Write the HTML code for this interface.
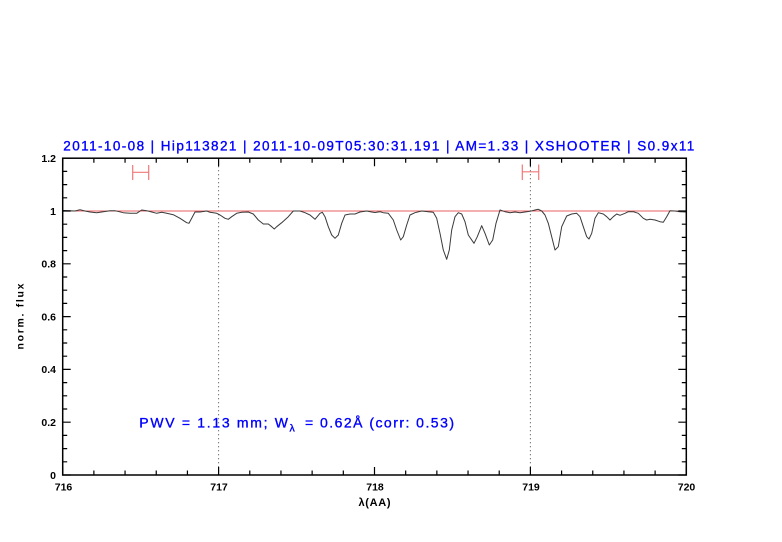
<!DOCTYPE html>
<html><head><meta charset="utf-8"><style>
html,body{margin:0;padding:0;background:#fff;}
svg{display:block;}
text{font-family:"Liberation Sans",sans-serif;}
</style></head><body>
<svg width="782" height="542" viewBox="0 0 782 542" xmlns="http://www.w3.org/2000/svg">
<rect width="782" height="542" fill="#fff"/>
<!-- title -->
<text x="63.3" y="150.3" font-size="13.5" fill="#0000ff" stroke="#0000ff" stroke-width="0.35" textLength="631" lengthAdjust="spacing">2011-10-08 | Hip113821 | 2011-10-09T05:30:31.191 | AM=1.33 | XSHOOTER | S0.9x11</text>
<!-- dotted lines -->
<g stroke="#444" stroke-width="1" stroke-dasharray="1,3">
<line x1="218.6" y1="158.2" x2="218.6" y2="475"/>
<line x1="530.4" y1="158.2" x2="530.4" y2="475"/>
</g>
<!-- unity line -->
<line x1="62.7" y1="211" x2="686.3" y2="211" stroke="#e86060" stroke-width="1"/>
<!-- error bars -->
<g stroke="#f07878" stroke-width="1.2" fill="none">
<path d="M132.7 172.3H148.7M132.7 165V180M148.7 165V180"/>
<path d="M522.3 171.8H538.7M522.3 164.5V180M538.7 164.5V180"/>
</g>
<!-- spectrum -->
<polyline fill="none" stroke="#3a3a3a" stroke-width="1" stroke-linejoin="round" points="62.7,211 63.3,210.5 70,210.7 75,211 80,209.7 85,211 90,212 96.7,212.7 101.7,212 110,210.7 115,210.7 123.3,212.7 130,213.3 136.7,213.3 141.7,210 146.7,210.7 151.7,212 156.7,213.3 161.7,212.3 166.7,213.3 173.3,214.7 180,218.3 186.7,222.7 189,223.3 191.7,218.3 195,212 200,212 206.7,211 210,212.3 216.7,213.3 220,215 225,218.3 228.3,219.3 231.7,216.7 236.7,213.3 241.7,212.3 248.3,212 253.3,214 258.3,220 263.3,224 268.3,224 271.7,226.7 274.3,229 276.7,226.7 281.7,222.7 288.3,216.7 293.3,211 300,211 305,212.7 310,215 315,219.3 320,213.3 322.3,212.3 325,216.7 328.3,226.7 331.7,235 335,238.3 338.3,235 341.7,223.3 345,215 350,214 355,214 360,212 366.7,211 371.7,212 375,212.5 380,211.7 383.3,212.7 388.3,213.3 393.3,220 396.7,230 400.7,240 403.3,236.7 406.7,225 410,215 415,212.7 421.7,211 428.3,211.7 433.3,212.3 436.7,218.3 440,233.3 443.3,250 446.7,259.3 449.3,250 451.7,230 455,216.7 458.3,212.7 461.7,214 465,221.7 468.3,235 474,243.3 477.3,236.7 481.7,225.7 485,233.3 489.3,245 492.7,240 496,223.3 500,210 505,211.7 510,212.7 515,212 520,212.7 525,212 530,211.3 535,210 538.3,209.3 541.7,211 545,215 548.3,223.3 551.7,236.7 555,250 558.3,246.7 561.7,226.7 566.7,216 571.7,214 576.7,213.3 580,216.7 583.3,226.7 586.7,236.7 589,239 591.7,233.3 595,218.3 598.3,212.7 603.3,214 606.7,216.7 610,220 613.3,216.7 616.7,214 620,215.3 625,213.3 628.3,211.7 633.3,211.7 638.3,213.3 643.3,218.3 646.7,220 650,219.3 655,220 660,221.7 663.3,222.3 666.7,216.7 670,210.7 675,211 680,211.7 686,212"/>
<!-- frame -->
<rect x="62.7" y="158.2" width="623.6" height="316.8" fill="none" stroke="#000" stroke-width="1.5"/>
<!-- ticks -->
<path stroke="#000" stroke-width="1.2" fill="none" d="
M62.7 475v-8M218.6 475v-8M374.5 475v-8M530.4 475v-8M686.3 475v-8
M62.7 158.2v8M218.6 158.2v8M374.5 158.2v8M530.4 158.2v8M686.3 158.2v8
M93.88 475v-4.5M125.06 475v-4.5M156.24 475v-4.5M187.42 475v-4.5M249.78 475v-4.5M280.96 475v-4.5M312.14 475v-4.5M343.32 475v-4.5M405.68 475v-4.5M436.86 475v-4.5M468.04 475v-4.5M499.22 475v-4.5M561.58 475v-4.5M592.76 475v-4.5M623.94 475v-4.5M655.12 475v-4.5
M93.88 158.2v4.5M125.06 158.2v4.5M156.24 158.2v4.5M187.42 158.2v4.5M249.78 158.2v4.5M280.96 158.2v4.5M312.14 158.2v4.5M343.32 158.2v4.5M405.68 158.2v4.5M436.86 158.2v4.5M468.04 158.2v4.5M499.22 158.2v4.5M561.58 158.2v4.5M592.76 158.2v4.5M623.94 158.2v4.5M655.12 158.2v4.5
M62.7 475h8M62.7 422.2h8M62.7 369.4h8M62.7 316.6h8M62.7 263.8h8M62.7 211h8M62.7 158.2h8
M686.3 475h-8M686.3 422.2h-8M686.3 369.4h-8M686.3 316.6h-8M686.3 263.8h-8M686.3 211h-8M686.3 158.2h-8
M62.7 461.8h4.5M62.7 448.6h4.5M62.7 435.4h4.5M62.7 409h4.5M62.7 395.8h4.5M62.7 382.6h4.5M62.7 356.2h4.5M62.7 343h4.5M62.7 329.8h4.5M62.7 303.4h4.5M62.7 290.2h4.5M62.7 277h4.5M62.7 250.6h4.5M62.7 237.4h4.5M62.7 224.2h4.5M62.7 197.8h4.5M62.7 184.6h4.5M62.7 171.4h4.5
M686.3 461.8h-4.5M686.3 448.6h-4.5M686.3 435.4h-4.5M686.3 409h-4.5M686.3 395.8h-4.5M686.3 382.6h-4.5M686.3 356.2h-4.5M686.3 343h-4.5M686.3 329.8h-4.5M686.3 303.4h-4.5M686.3 290.2h-4.5M686.3 277h-4.5M686.3 250.6h-4.5M686.3 237.4h-4.5M686.3 224.2h-4.5M686.3 197.8h-4.5M686.3 184.6h-4.5M686.3 171.4h-4.5"/>
<!-- y tick labels -->
<g font-size="10.5" font-weight="bold" fill="#000" text-anchor="end">
<text x="56" y="478.8">0</text>
<text x="56" y="426">0.2</text>
<text x="56" y="373.2">0.4</text>
<text x="56" y="320.4">0.6</text>
<text x="56" y="267.6">0.8</text>
<text x="56" y="214.8">1</text>
<text x="56" y="162">1.2</text>
</g>
<!-- x tick labels -->
<g font-size="10.5" font-weight="bold" fill="#000" text-anchor="middle">
<text x="63.5" y="490.7">716</text>
<text x="219" y="490.7">717</text>
<text x="375" y="490.7">718</text>
<text x="531" y="490.7">719</text>
<text x="686.5" y="490.7">720</text>
</g>
<text x="358.5" y="506" font-size="11" font-weight="bold" fill="#000" textLength="32" lengthAdjust="spacing">λ(AA)</text>
<text transform="translate(23.3,316.5) rotate(-90)" x="-33" y="0" font-size="10.5" font-weight="bold" fill="#000" textLength="66" lengthAdjust="spacing">norm. flux</text>
<!-- PWV annotation -->
<g fill="#0000ff" stroke="#0000ff" stroke-width="0.35">
<text x="139.3" y="427.7" font-size="14" textLength="148.7" lengthAdjust="spacing">PWV = 1.13 mm; W</text>
<text x="289.5" y="431.7" font-size="10.5">λ</text>
<text x="305" y="427.7" font-size="14" textLength="149" lengthAdjust="spacing">= 0.62Å (corr: 0.53)</text>
</g>
</svg>
</body></html>
